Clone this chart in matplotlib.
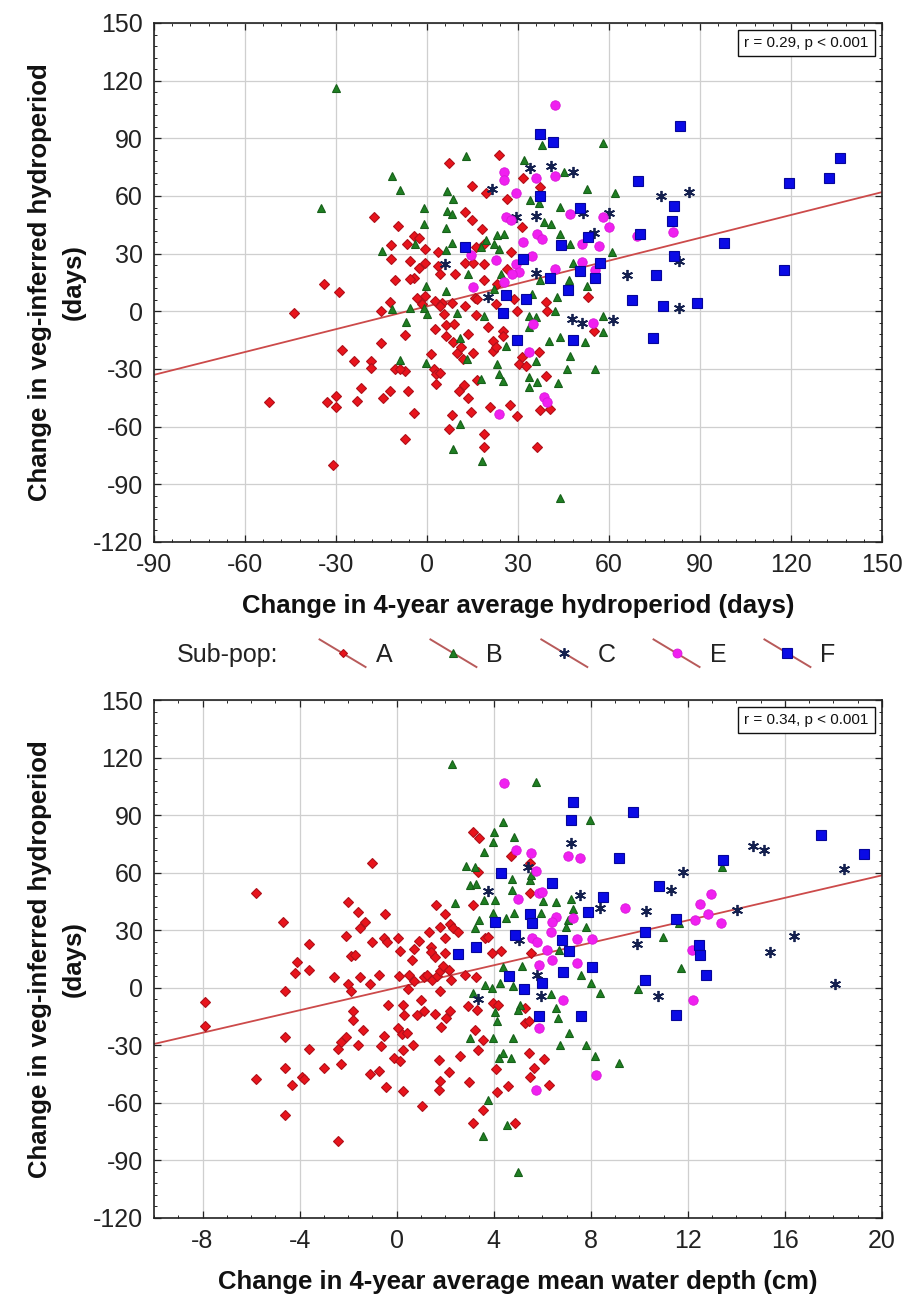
import numpy as np
import matplotlib
matplotlib.use('Agg')
import matplotlib.pyplot as plt
from matplotlib.lines import Line2D
from matplotlib.legend_handler import HandlerLine2D
from matplotlib.ticker import MultipleLocator, AutoMinorLocator

plt.rcParams['font.family'] = ['Liberation Sans', 'DejaVu Sans']
plt.rcParams['axes.unicode_minus'] = False

# ---------------- data: top panel (x = change in 4-yr avg hydroperiod, days) ----------------
topA = [(-34,14),(-29,10),(-44,-1),(-28,-20),(-52,-47),(-33,-47),(-30,-44),(-30,-50),(-31,-80),
        (7.3,77.3),(14.7,65.2),(-17.5,49.2),(12.4,51.8),(14.7,47.5),(-9.6,44.4),(-4.4,39.2),(-2.7,38),
        (-11.8,34.3),(-6.5,35.2),(-0.5,32.6),(3.5,31),(-11.8,27.1),(-5.5,26.2),(-0.5,25.3),(-2.7,22.7),
        (3.6,23.6),(4.4,19.3),(9.1,19.3),(12.5,25.3),(15.3,25.3),(-10.6,16.1),(-4.4,17.5),(-5.5,16.6),
        (-3.3,7.1),(-0.8,8),(2.7,5.4),(4.9,4.5),(8.4,4.2),(4.4,2.8),(12.5,2.8),(15.8,7.1),(-12.2,5),
        (-15.3,0.2),(-1.6,3.6),(5.7,-1.2),(16.1,-2),(2.5,-9),(6.2,-7.3),(8.9,-6.8),(-7.4,-12.3),
        (6.2,-12.8),(13.6,-11.6),(8.7,-16),(-15.3,-16.7),(9.8,-21.5),(1.4,-22.4),(15.3,-21.5),(12,-25),
        (-24.2,-25.8),(-18.5,-25.8),(-18.5,-29.3),(-10.6,-30.2),(-7.4,-31),(-8.9,-30.2),(2.2,-30.2),
        (3.1,-32.8),(4.4,-31.9),(3.1,-38),(16.4,-35.9),(-21.6,-40),(-12.2,-41.4),(-6.3,-41.4),
        (10.4,-41.4),(12.3,-38.3),(-23.1,-46.6),(-14.4,-44.9),(13.6,-45.3),(-4.4,-53),(14.5,-52.4),
        (8.2,-54.1),(7.1,-61.4),(-7.4,-66.6),
        (23.8,81.3),(31.6,69.1),(19.4,61.3),(37.2,64.8),(26.5,58.2),(18.3,43),(31.4,43.9),(18.7,35.2),
        (16.1,33.5),(27.6,30.9),(18.9,24.8),(26.5,22.2),(18.9,16.1),(23.2,14),(16.4,6.5),(28.7,6.5),
        (39.4,4.8),(22.7,3.9),(29.6,0.4),(39.6,0.4),(20,-8.3),(25.2,-10.3),(25.2,-12.6),(55.2,-10.3),
        (53.2,7.7),(21.6,-15.6),(21.9,-20.4),(22.7,-18.7),(11.2,-18.7),(36.9,-21.3),(31.4,-23.9),
        (30.3,-27.4),(32.5,-28.2),(39.4,-33.5),(37.4,-51.2),(40.5,-50.9),(20.8,-49.6),(27.4,-48.6),
        (29.6,-54.3),(18.7,-63.6),(18.7,-70.5),(36.3,-70.5)]
topB = [(-30,116),(-35,54),(13,81),(-11.5,70.4),(-8.9,63),(6.5,62.6),(8.7,58.3),(-1.1,53.9),(6.5,52.2),
        (8.2,50.5),(-1.1,45.3),(6.2,43.5),(-3.8,34.9),(-14.9,31.4),(6.2,31.9),(8.2,35.7),(-0.2,13.2),
        (6.2,10.6),(-11.7,1),(-5.5,1.9),(-1.1,1.9),(0,-1.6),(10,-0.7),(-6.8,-5.5),(10.9,-13.7),(13.1,-25),
        (-9,-25.5),(-0.2,-27),(10.9,-58.8),(8.7,-71.8),
        (38,86.5),(57.9,87.7),(32,78.7),(45.1,72.6),(52.7,63.4),(62,61.3),(34.1,57.8),(36.9,56.1),
        (43.7,54.3),(41,45.3),(38.5,46.5),(25.4,40.4),(23,39.6),(43.7,40),(19.4,37),(17.8,33.5),
        (22.1,35.2),(23.8,32.6),(47.2,35.2),(60.9,30.9),(24.3,19.6),(37.4,16.1),(48.3,25.1),(46.7,16.4),
        (52.7,13.1),(13.4,19.6),(22.1,11.7),(34.7,9.1),(42.9,7.4),(42.3,0.4),(18.9,-2.2),(33.6,-2.2),
        (35.8,-3),(33.6,-8.3),(57.9,-2.2),(57.9,-10.9),(43.7,-13.5),(40.1,-15.2),(52.1,-16.1),(26,-17.8),
        (35.8,-25.6),(23.2,-27.4),(47.2,-23),(46.1,-30),(55.4,-30),(23.8,-32.6),(17.8,-35.2),(24.9,-36.1),
        (33.6,-34.3),(36.3,-36.9),(33.6,-39.6),(43.1,-37.3),(18.1,-77.8),(43.7,-97)]
topC = [(6,24.5),(34.1,74.3),(41,75.7),(48,72.3),(21.4,63.6),(29.2,49.1),(36,49.5),(51.4,50.9),
        (60.1,51.4),(54.9,40.8),(36,19.9),(65.8,18.7),(20,7.4),(47.9,-3.9),(51.2,-6),(61.2,-4.3),
        (77.1,60.1),(86.3,62.2),(83.2,26.4),(83.2,1.9)]
topE = [(14.5,29.5),(15.3,12.5),(42.3,107.4),(25.4,72.6),(25.4,68.3),(36,69.1),(42.3,70.5),(29.2,61.3),
        (26,49.1),(27.6,47.4),(47,50.4),(57.9,49.1),(60.1,43.9),(69.1,39.2),(36.3,40.4),(38,37.5),
        (31.7,36.1),(51.1,35.2),(56.8,34),(34.7,28.6),(22.7,26.5),(29.2,24.8),(30.4,20.4),(28.1,19.6),
        (42.3,22.2),(51.1,25.7),(55.4,21.3),(25.4,15.2),(35,-6.5),(54.7,-6.2),(33.6,-21.3),(38.5,-44.8),
        (39.6,-47.4),(23.6,-53.5),(81,41.1)]
topF = [(12.5,33.5),(37.4,92.1),(41.6,87.9),(37.4,60.1),(69.5,67.7),(50.5,53.8),(70.2,40.2),(53.2,38.7),
        (44.2,34.4),(31.6,27.4),(50.3,20.8),(57.1,25.1),(55.4,17.3),(40.5,17.3),(46.4,10.9),(67.5,6),
        (26,8.6),(32.7,6.5),(24.9,-0.8),(48.3,-14.9),(29.6,-14.9),(83.5,96.4),(136.2,79.6),(132.4,69.6),
        (119.2,66.5),(81.3,54.9),(80.8,47.1),(97.8,35.5),(81.3,29),(75.5,19.1),(117.8,21.5),(77.7,2.6),
        (88.9,4.2),(74.4,-13.9)]

# ---------------- data: bottom panel (x = change in 4-yr avg mean water depth, cm) ----------------
botA = [(-1.0,65.2),(-5.8,49.6),(-4.7,34.4),(-2.0,44.5),(-1.6,39.6),(-1.3,34.4),(-1.5,30.9),(-2.1,27.1),
        (-3.6,22.8),(-4.1,13.5),(-4.2,7.8),(-3.6,9.5),(-1.9,16.5),(-1.7,17),(-1.0,24),(-2.6,5.4),
        (-2.0,2.2),(-1.9,-1.6),(-1.5,5.4),(-1.1,2.2),(-4.6,-1.6),(-7.9,-7.3),(-7.9,-19.9),(-1.8,-12),
        (-1.8,-16.6),(-1.4,-22.1),(-4.6,-25.6),(-3.6,-31.7),(-2.1,-25.6),(-2.3,-28.2),(-2.4,-31.7),
        (-1.6,-30),(-4.6,-41.6),(-3.0,-41.6),(-2.3,-39.9),(-1.1,-44.7),(-5.8,-47.4),(-4.3,-50.8),
        (-3.9,-46.5),(-3.8,-47.4),(-4.6,-66.5),(-2.4,-79.9),
        (3.16,81.3),(3.4,77.9),(4.72,68.7),(3.36,60.5),(3.16,43.2),(1.62,43.2),(2.0,38.3),(-0.48,38.3),
        (1.32,29.3),(1.8,31.6),(2.2,33.1),(2.31,31),(2.54,29.3),(2.0,26.2),(3.66,25.8),(3.77,26.7),
        (-0.52,25.8),(-0.38,23.6),(0.07,25.8),(0.14,19.3),(0.71,20.1),(0.91,24.6),(1.43,21.5),(1.43,18.9),
        (1.57,16.3),(2.0,18),(3.91,18),(4.31,19.3),(0.64,14.6),(0.5,6.8),(-0.72,6.8),(0.1,6.3),(0.71,3.3),
        (1.12,5.4),(1.25,6.8),(1.46,4.2),(1.66,5.9),(1.8,9),(1.91,11.1),(2.14,9.4),(2.23,3.8),(1.8,-1.9),
        (1.02,-6.2),(2.82,6.8),(3.29,5.6),(0.48,-0.9),(-0.34,-8.8),(0.26,-8.8),(0.3,-14),(0.84,-14),
        (1.12,-12),(1.59,-13.5),(1.82,-20.5),(2.04,-15.8),(2.2,-12.3),(2.95,-9.4),(3.32,-11.4),(3.97,-8),
        (4.18,-8.8),(-0.52,-25),(0.07,-21),(0.23,-23.9),(0.44,-23.6),(0.68,-29.6),(0.27,-32.2),
        (-0.11,-36.6),(0.14,-38.3),(-0.65,-30.2),(3.23,-21.8),(3.54,-27.4),(3.36,-32.2),(1.76,-37.4),
        (2.61,-35.4),(2.14,-44),(-0.72,-43.5),(-0.45,-51.8),(0.27,-53.6),(1.8,-48.4),(1.76,-53.4),
        (2.99,-49.2),(4.08,-42.6),(4.59,-51.3),(4.13,-54.4),(1.05,-61.4),(3.54,-63.5),(3.13,-70.4),
        (4.86,-70.4),
        (5.48,64.9),(5.51,49.3),(5.55,18),(5.3,-10.6),(5.27,-18.4),(5.45,-17.5),(5.45,-34),(6.07,-37.1),
        (5.66,-41.8),(5.48,-46.5),(6.26,-50.5)]
botB = [(2.3,116.4),(4.38,86.5),(4.01,81.3),(4.83,78.4),(3.97,75.8),(3.59,70.6),(2.86,63.6),(3.23,63.1),
        (4.76,56.5),(3.02,53.6),(3.29,53.9),(3.61,45.8),(4.76,51),(4.04,45.8),(2.41,44.4),(3.97,39.2),
        (4.49,36.2),(4.82,38.8),(3.4,35.4),(3.23,31.4),(4.38,10.8),(4.24,2.6),(3.63,1.6),(3.91,0),
        (3.13,-2.8),(4.04,-12.8),(4.15,-17.5),(3.02,-26.2),(3.97,-26.2),(4.22,-36.6),(4.38,-34),
        (4.72,-36.6),(3.77,-58.3),(4.54,-71.3),(3.57,-77.3),
        (5.76,107.3),(7.96,87.4),(5.51,56.2),(5.55,58.8),(6.04,45.3),(6.56,44.9),(7.19,46.1),(5.93,39.2),
        (7.26,40.9),(7.05,35.4),(7.82,31.9),(6.98,31.9),(10.99,26.4),(6.7,19.8),(5.16,11.1),(7.58,6.8),
        (4.81,0.7),(8,2.4),(8.38,-2.8),(6.35,-3.1),(9.96,-0.7),(6.56,-10.6),(5.09,-8.8),(5.02,-11.4),
        (6.63,-15.8),(4.81,-26.2),(7.12,-23.6),(6.74,-29.6),(7.82,-29.6),(8.17,-35.7),(9.15,-39.2),
        (13.42,63),(11.63,33.8),(11.7,10.5),(5.0,-96)]
botC = [(3.77,50.5),(3.36,-5.9),(7.19,75.6),(5.4,63.1),(7.54,48.4),(8.38,41.4),(11.32,51),(11.8,60.5),
        (10.29,40.2),(9.89,22.9),(5.06,25),(5.79,6.8),(5.93,-4.5),(10.76,-4.5),(14.7,73.8),(15.14,72),
        (18.43,62.1),(14.01,40.4),(16.39,26.8),(15.39,18.7),(18.08,1.8)]
botE = [(4.41,107),(4.93,71.8),(5.0,46.3),(5.55,70.4),(7.05,68.7),(7.57,67.8),(5.76,61),(5.86,49.3),
        (6,50.1),(9.4,41.4),(6.56,37.1),(6.42,34.5),(7.26,36.2),(6.35,29.3),(5.58,25.8),(5.79,23.8),
        (7.44,25.3),(8.06,25.3),(6.21,19.8),(6.42,14.6),(5.86,12),(7.44,12.8),(6.84,-6.2),(5.86,-21),
        (8.2,-45.3),(5.76,-53.1),(12.94,48.7),(12.5,43.9),(12.83,38.7),(12.29,35.2),(13.35,33.8),
        (12.18,19.5),(12.22,-6.5)]
botF = [(4.31,60),(4.04,34.5),(4.86,27.6),(3.27,21),(2.54,17.5),(4.61,5.9),(7.26,96.6),(7.19,87.4),
        (9.75,91.7),(9.15,67.5),(6.39,54.8),(8.49,47.5),(10.83,53.2),(11.53,35.9),(10.24,29.3),(7.89,39.7),
        (5.48,38.3),(5.58,33.6),(6.8,25),(7.09,19.3),(6.87,8.2),(8.03,10.8),(6,2.4),(5.23,-0.7),
        (10.24,4.2),(5.86,-14.6),(7.61,-14.9),(11.5,-14.2),(17.49,79.5),(19.28,69.6),(13.46,66.8),
        (12.46,22.1),(12.52,17.3),(12.73,6.5)]

groups = ['A', 'B', 'C', 'E', 'F']
top_data = [topA, topB, topC, topE, topF]
bot_data = [botA, botB, botC, botE, botF]

# regression lines (intercept, slope) and stats
top_fit = (2.6, 0.396)
bot_fit = (0.0, 2.93)
top_stat = 'r = 0.29, p < 0.001'
bot_stat = 'r = 0.34, p < 0.001'

top_xlabel = 'Change in 4-year average hydroperiod (days)'
bot_xlabel = 'Change in 4-year average mean water depth (cm)'
ylabel = 'Change in veg-inferred hydroperiod\n(days)'

# ---------------- styles ----------------
styles = {
    'A': dict(marker='D', ms=4.6, mfc='#e8141c', mec='#b0101a', mew=0.8),
    'B': dict(marker='^', ms=6.3, mfc='#1f7f22', mec='#17601a', mew=0.8),
    'C': dict(marker=(6, 2, 0), ms=8, mfc='#14204f', mec='#14204f', mew=1.3),
    'E': dict(marker='o', ms=6.8, mfc='#f020f0', mec='#d818d8', mew=0.6),
    'F': dict(marker='s', ms=7.6, mfc='#0a0ae6', mec='#06069a', mew=0.8),
}
line_color = '#cc4a4a'

fig = plt.figure(figsize=(9.07, 13.06), dpi=100)
ax1 = fig.add_axes([0.1698, 0.585, 0.8026, 0.3974])
ax2 = fig.add_axes([0.1698, 0.0674, 0.8026, 0.3966])


def style_axes(ax, xlim, xmajor, xminor_n, xlabel, stat):
    ax.set_xlim(*xlim)
    ax.set_ylim(-120, 150)
    ax.xaxis.set_major_locator(MultipleLocator(xmajor))
    ax.yaxis.set_major_locator(MultipleLocator(30))
    ax.xaxis.set_minor_locator(AutoMinorLocator(xminor_n))
    ax.yaxis.set_minor_locator(AutoMinorLocator(5))
    ax.grid(True, which='major', color='#cfcfcf', lw=0.9, zorder=0)
    ax.set_axisbelow(True)
    ax.tick_params(which='both', direction='in', top=True, right=True, colors='#222222',
                   labelsize=18, pad=8)
    ax.tick_params(which='major', length=5, width=0.9)
    ax.tick_params(which='minor', length=2.5, width=0.7)
    for s in ax.spines.values():
        s.set_linewidth(1.2)
        s.set_color('#222222')
    ax.set_xlabel(xlabel, fontsize=18.5, fontweight='bold', color='#111111')
    ax.xaxis.set_label_coords(0.5, -0.1)
    ax.set_ylabel(ylabel, fontsize=18.5, fontweight='bold', color='#111111', linespacing=1.52)
    ax.yaxis.set_label_coords(-0.094, 0.5)
    ax.text(0.982, 0.975, stat, transform=ax.transAxes, ha='right', va='top', fontsize=11,
            color='#111111',
            bbox=dict(boxstyle='square,pad=0.4', fc='white', ec='#111111', lw=1.0), zorder=10)


def draw(ax, data, fit, xlim):
    xs = np.array(xlim, dtype=float)
    ax.plot(xs, fit[0] + fit[1] * xs, color=line_color, lw=1.3, zorder=2)
    for g, pts in zip(groups, data):
        arr = np.array(pts, dtype=float)
        ax.plot(arr[:, 0], arr[:, 1], linestyle='none', zorder=3, **styles[g])


draw(ax1, top_data, top_fit, (-90, 150))
style_axes(ax1, (-90, 150), 30, 5, top_xlabel, top_stat)
draw(ax2, bot_data, bot_fit, (-10, 20))
style_axes(ax2, (-10, 20), 4, 4, bot_xlabel, bot_stat)
ax2.set_xticks([-8, -4, 0, 4, 8, 12, 16, 20])


# ---------------- legend ----------------
class DiagHandler(HandlerLine2D):
    def create_artists(self, legend, orig_handle, xdescent, ydescent, width, height, fontsize, trans):
        x0, x1 = -xdescent, -xdescent + width
        yc = -ydescent + height / 2.0
        dy = width * 0.3
        ln = Line2D([x0, x1], [yc + dy, yc - dy], color=orig_handle.get_color(),
                    lw=orig_handle.get_linewidth())
        ln.set_transform(trans)
        mk = Line2D([(x0 + x1) / 2.0], [yc], linestyle='none',
                    marker=orig_handle.get_marker(), ms=orig_handle.get_markersize() * 0.95,
                    mfc=orig_handle.get_markerfacecolor(), mec=orig_handle.get_markeredgecolor(),
                    mew=orig_handle.get_markeredgewidth())
        mk.set_transform(trans)
        return [ln, mk]


handles = [Line2D([], [], color='#b85a5a', lw=1.4, **styles[g]) for g in groups]
fig.text(0.195, 0.4985, 'Sub-pop:', fontsize=18, va='center', ha='left', color='#222222')
fig.legend(handles, groups, loc='center left', bbox_to_anchor=(0.3275, 0.4985), ncol=5,
           frameon=False, fontsize=18, handlelength=1.84, handletextpad=0.4, columnspacing=1.53,
           handler_map={Line2D: DiagHandler()}, borderpad=0.4, labelcolor='#222222')

fig.savefig('out.png', dpi=100)
